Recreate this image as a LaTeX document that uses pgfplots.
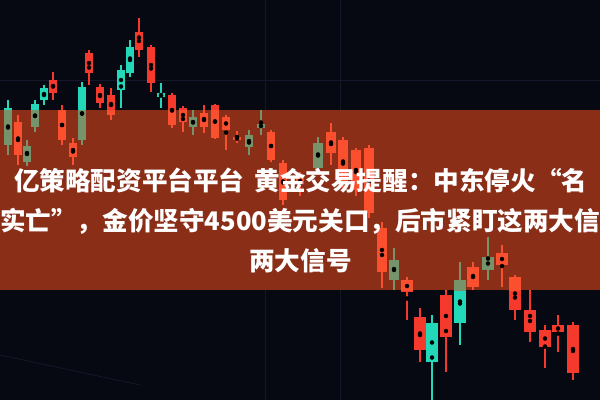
\documentclass[border=0pt]{standalone}
\usepackage{fontspec}
\usepackage{pgfplots}
\pgfplotsset{compat=1.18}
\usepackage{pgfplotstable}
\newfontfamily\cjk{Noto Sans CJK SC}
\newfontfamily\cjkfw{Noto Sans CJK SC}[CharacterWidth=Full]
\definecolor{bg}{RGB}{6,8,18}
\definecolor{cr}{RGB}{245,58,45}
\definecolor{cg}{RGB}{35,215,185}
\definecolor{crb}{RGB}{250,80,48}
\definecolor{cgb}{RGB}{118,148,108}
\definecolor{band}{RGB}{138,46,24}
\definecolor{gridc}{RGB}{20,24,42}

% candles in picture coordinates: x, wick top, body top, body bottom, wick bottom
\pgfplotstableread{
x   wt  bt  bb  wb
18  115 122 155 165
53  72  80  93  100
62  105 110 140 145
73  138 143 157 165
89  50  53  73  85
100 84  87  103 108
111 88  95  115 120
139 18  32  50  57
151 45  47  83  92
172 93  95  125 128
183 106 108 122 132
204 105 113 127 133
215 104 105 138 139
226 115 117 130 150
237 131 137 140 143
271 130 132 160 162
283 160 163 200 205
300 172 178 184 196
331 123 132 153 165
343 137 140 183 190
356 148 150 190 196
369 145 148 213 218
382 222 228 272 288
407 277 280 292 320
420 308 317 350 362
446 290 295 337 372
473 262 267 287 290
502 245 253 265 287
515 275 277 310 320
530 290 310 332 342
545 325 330 347 368
558 315 325 332 352
573 322 325 373 380
}\redtab
\pgfplotstableread{
x   wt  bt  bb  wb
8   100 108 145 155
27  140 146 162 166
35  100 104 127 132
44  85  88  100 105
82  82  87  140 145
121 65  70  90  108
130 40  47  73  77
161 83  93  97  108
193 110 117 127 135
249 130 135 147 155
261 110 124 128 135
318 137 143 168 172
394 248 260 280 290
432 315 323 362 400
460 262 280 323 345
488 237 257 270 280
}\greentab

\pgfplotsset{
  candle/.style 2 args={only marks, mark=none, forget plot,
    /pgfplots/error bars/y dir=both, /pgfplots/error bars/y explicit,
    /pgfplots/error bars/error mark=none,
    /pgfplots/error bars/error bar style={draw=#1, line width=#2, line cap=butt}},
  pic axis/.style={at={(0pt,0pt)}, anchor=south west, width=600pt, height=400pt,
    scale only axis, hide axis, xmin=0, xmax=600, ymin=0, ymax=400,
    y dir=reverse, clip=true},
}
% #1 table, #2 colour
\newcommand\wicks[2]{%
\addplot[restrict x to domain=0:300, candle={#2}{1.8pt}] table[x=x, y expr={(\thisrow{wt}+\thisrow{wb})/2}, y error expr={(\thisrow{wb}-\thisrow{wt})/2}] {#1};
\addplot[restrict x to domain=301:600, candle={#2}{2.4pt}] table[x=x, y expr={(\thisrow{wt}+\thisrow{wb})/2}, y error expr={(\thisrow{wb}-\thisrow{wt})/2}] {#1};
}
\newcommand\bodies[2]{%
\addplot[restrict x to domain=0:300, candle={#2}{8pt}] table[x=x, y expr={(\thisrow{bt}+\thisrow{bb})/2}, y error expr={(\thisrow{bb}-\thisrow{bt})/2}] {#1};
\addplot[restrict x to domain=301:400, candle={#2}{10pt}] table[x=x, y expr={(\thisrow{bt}+\thisrow{bb})/2}, y error expr={(\thisrow{bb}-\thisrow{bt})/2}] {#1};
\addplot[restrict x to domain=401:600, candle={#2}{12.5pt}] table[x=x, y expr={(\thisrow{bt}+\thisrow{bb})/2}, y error expr={(\thisrow{bb}-\thisrow{bt})/2}] {#1};
}

\begin{document}
\begin{tikzpicture}
\path[use as bounding box] (0,0) rectangle (600pt,400pt);
\clip (0,0) rectangle (600pt,400pt);
\fill[bg] (0,0) rectangle (600pt,400pt);
\begin{axis}[pic axis]
\addplot[gridc, line width=0.8pt, forget plot] coordinates {(265,0) (265,400)};
\addplot[gridc, line width=0.8pt, forget plot] coordinates {(340,0) (340,400)};
\addplot[gridc, line width=0.8pt, forget plot] coordinates {(0,80) (600,80)};
\addplot[gridc, line width=0.8pt, forget plot] coordinates {(0,355) (140,385)};
\wicks{\redtab}{cr}
\wicks{\greentab}{cg}
\bodies{\redtab}{cr}
\bodies{\greentab}{cg}
\end{axis}
% band with the candles seen through it
\fill[band] (0,110pt) rectangle (600pt,290pt);
\begin{scope}
\clip (0,110pt) rectangle (600pt,290pt);
\begin{axis}[pic axis]
\wicks{\redtab}{crb}
\wicks{\greentab}{cgb}
\bodies{\redtab}{crb}
\bodies{\greentab}{cgb}
\end{axis}
\end{scope}
\begin{scope}[every node/.style={anchor=base west, inner sep=0pt, text=white,
   font=\cjk\bfseries\fontsize{25.6pt}{30pt}\selectfont}]
\node at (14pt,210pt) {亿策略配资平台平台\hspace{10pt}黄金交易提醒：中东停火{\cjkfw “}名};
\node at (0pt,170pt) {实亡{\cjkfw ”}，金价坚守4500美元关口，后市紧盯这两大信};
\node at (249pt,130pt) {两大信号};
\end{scope}
\end{tikzpicture}
\end{document}
